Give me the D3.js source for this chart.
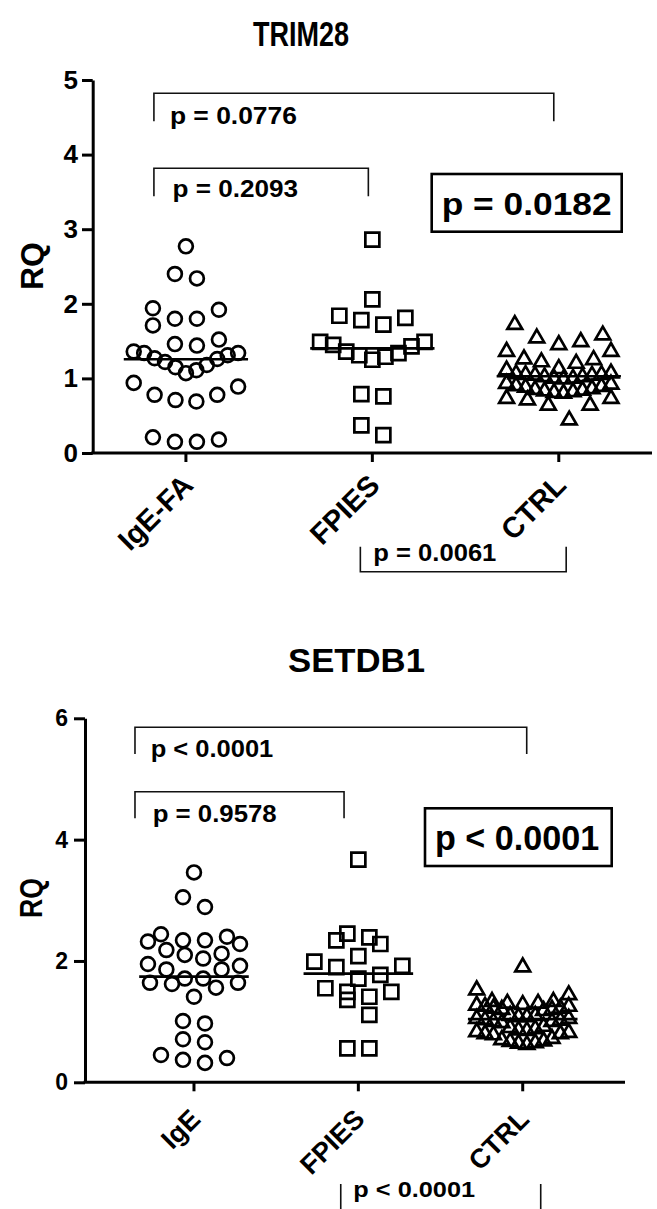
<!DOCTYPE html>
<html>
<head>
<meta charset="utf-8">
<script src="https://cdn.jsdelivr.net/npm/d3@7"></script>
<style>
  body { margin: 0; background: #fff; }
  svg text { font-family: Arial, "Liberation Sans", sans-serif; font-weight: bold; fill: #000; }
</style>
</head>
<body>
<div id="chart"></div>
<script>
// ---- data (RQ values) ----
const trim28Groups = ["IgE-FA", "FPIES", "CTRL"];
const trim28Ticks = [0, 1, 2, 3, 4, 5];
const trim28IgE = [2.77, 2.40, 2.34, 1.92, 1.94, 1.71, 1.80, 1.80, 1.46, 1.44, 1.52, 1.36, 1.34, 1.27, 1.22, 1.15,
  1.07, 1.11, 1.18, 1.26, 1.31, 1.34, 0.94, 0.78, 0.71, 0.69, 0.78, 0.89, 0.18, 0.15, 0.15, 0.21];
const trim28FPIES = [2.86, 2.06, 1.84, 1.78, 1.72, 1.81, 1.49, 1.45, 1.36, 1.31, 1.25, 1.29, 1.34, 1.43, 1.49,
  0.79, 0.76, 0.24, 0.37];
const trim28CTRL = [1.72, 1.58, 1.49, 1.45, 1.54, 1.36, 1.36, 1.25, 1.20, 1.11, 1.13, 1.22, 1.26,
  1.06, 1.05, 1.04, 1.02, 1.00, 0.99, 1.00, 1.02, 1.04, 1.05, 1.07,
  0.93, 0.90, 0.88, 0.85, 0.83, 0.81, 0.80, 0.82, 0.84, 0.86, 0.89, 0.92,
  0.73, 0.64, 0.64, 0.71, 0.73, 0.44];
const trim28P = ["p = 0.0776", "p = 0.2093", "p = 0.0061", "p = 0.0182"];

const setdb1Groups = ["IgE", "FPIES", "CTRL"];
const setdb1Ticks = [0, 2, 4, 6];
const setdb1IgE = [3.46, 3.05, 2.89, 2.40, 2.34, 2.28, 2.32, 2.34, 2.44, 2.18, 2.12, 2.10, 1.95, 1.86, 1.86, 1.92,
  2.04, 1.71, 1.64, 1.62, 1.41, 1.56, 1.64, 1.71, 0.97, 1.01, 0.66, 0.71, 0.40, 0.32, 0.37, 0.45];
const setdb1FPIES = [3.67, 2.39, 2.28, 2.34, 2.45, 2.08, 1.92, 1.77, 1.71, 1.90, 1.99, 1.55, 1.36, 1.49, 1.41,
  1.49, 1.11, 0.56, 0.56];
const setdb1CTRL = [1.90, 1.52, 1.44,
  1.33, 1.30, 1.28, 1.25, 1.22, 1.20, 1.18, 1.20, 1.22, 1.25, 1.27, 1.30, 1.33,
  1.10, 1.08, 1.05, 1.02, 1.00, 0.98, 1.00, 1.03, 1.05, 1.08, 1.10,
  0.92, 0.88, 0.85, 0.82, 0.80, 0.78, 0.80, 0.83, 0.86, 0.90,
  0.72, 0.68, 0.65, 0.62, 0.64, 0.67, 0.70];
const setdb1P = ["p < 0.0001", "p = 0.9578", "p < 0.0001", "p < 0.0001"];

const symbols = [d3.symbolCircle, d3.symbolSquare, d3.symbolTriangle];
const symbolSizes = [150, 196, 95];

const svg = d3.select("#chart").append("svg")
  .attr("width", 657)
  .attr("height", 1209);

function addText(g, txt, x, y, size, len) {
  const t = g.append("text")
    .attr("x", x)
    .attr("y", y)
    .style("font-size", size + "px")
    .text(txt);
  if (len) t.attr("textLength", len).attr("lengthAdjust", "spacingAndGlyphs");
  return t;
}

// GraphPad-like column scatter: bin by value, spread each row center-out
function swarm(vals, x0, y, binPx, gap, maxW, maxN) {
  const pts = vals.map(v => ({ v })).sort((a, b) => a.v - b.v);
  const rows = [];
  let row = null;
  pts.forEach(d => {
    if (!row || y(row[0].v) - y(d.v) >= binPx || row.length >= maxN) {
      row = [d];
      rows.push(row);
    } else row.push(d);
  });
  rows.forEach(r => {
    const n = r.length;
    const s = n > 1 ? Math.min(gap, maxW / (n - 1)) : 0;
    const slots = d3.range(n).map(i => (i - (n - 1) / 2) * s)
      .sort((a, b) => Math.round(Math.abs(a) * 100) - Math.round(Math.abs(b) * 100) || b - a);
    r.forEach((d, i) => { d.x = x0 + slots[i]; });
  });
  return pts;
}

function drawPanel(p) {
  const g = svg.append("g");
  const x = d3.scaleBand().domain(p.groups).range(p.xRange);
  const y = d3.scaleLinear().domain(p.yDomain).range([p.yBottom, p.yTop]);
  const bw = x.bandwidth();
  const cx = k => x(k) + bw / 2;

  // title
  addText(g, p.title, p.titleX, p.titleY, p.titleSize, p.titleLen);

  // y axis
  const ya = g.append("g")
    .attr("transform", `translate(${p.axisX},0)`)
    .call(d3.axisLeft(y).tickValues(p.yTicks).tickFormat(d3.format("d"))
      .tickSize(p.tickLen).tickSizeOuter(0).tickPadding(p.tickPad));
  ya.selectAll("path, line").attr("stroke", "#000").attr("stroke-width", 3);
  ya.selectAll("text").style("font-size", p.tickFont + "px");

  // x axis
  const xa = g.append("g")
    .attr("transform", `translate(0,${p.yBottom})`)
    .call(d3.axisBottom(x).tickSize(9).tickSizeOuter(0).tickFormat(""));
  xa.select(".domain").remove();
  xa.selectAll("line").attr("stroke", "#000").attr("stroke-width", 3);
  g.append("line")
    .attr("x1", p.axisX - 1.5).attr("x2", p.xEnd)
    .attr("y1", p.yBottom).attr("y2", p.yBottom)
    .attr("stroke", "#000").attr("stroke-width", 3);

  // rotated category labels
  g.selectAll(".xlab").data(p.groups).join("text")
    .attr("class", "xlab")
    .attr("text-anchor", "end")
    .style("font-size", p.xLabSize + "px")
    .attr("transform", d => `translate(${cx(d) + p.xLabDx},${p.yBottom + p.xLabDy}) rotate(-45)`)
    .text(d => d);

  // y label
  addText(g, "RQ", -p.yLab.len / 2, 0, p.yLab.size, p.yLab.len)
    .attr("transform", `translate(${p.yLab.x},${p.yLab.y}) rotate(-90)`);

  // points + mean lines
  p.series.forEach((vals, i) => {
    const k = p.groups[i];
    const pts = swarm(vals, cx(k), y, p.binPx, 22, bw * 0.56, 12);
    g.append("g").selectAll("path").data(pts).join("path")
      .attr("transform", d => `translate(${d.x},${y(d.v)})`)
      .attr("d", d3.symbol().type(symbols[i]).size(symbolSizes[i]))
      .attr("fill", "none")
      .attr("stroke", "#000")
      .attr("stroke-width", 2.7);
    const m = d3.mean(vals);
    g.append("line")
      .attr("x1", cx(k) - bw / 3).attr("x2", cx(k) + bw / 3)
      .attr("y1", y(m)).attr("y2", y(m))
      .attr("stroke", "#000").attr("stroke-width", 2.6);
  });

  // comparison brackets
  p.brackets.forEach(b => {
    const x1 = cx(p.groups[b.from]) + b.dx1;
    const x2 = cx(p.groups[b.to]) + b.dx2;
    g.append("path")
      .attr("d", `M${x1},${b.y + b.tip}V${b.y}H${x2}V${b.y + b.tip}`)
      .attr("fill", "none")
      .attr("stroke", "#111")
      .attr("stroke-width", 1.6);
    addText(g, b.label, x1 + b.tx, b.y + b.ty, b.size, b.len);
  });

  // boxed overall p value
  const bx = p.box;
  g.append("rect")
    .attr("x", bx.x).attr("y", bx.y).attr("width", bx.w).attr("height", bx.h)
    .attr("fill", "none").attr("stroke", "#000").attr("stroke-width", 2.6);
  addText(g, bx.label, bx.tx, bx.ty, bx.size, bx.len);
}

drawPanel({
  title: "TRIM28", titleX: 253, titleY: 46, titleSize: 35, titleLen: 96,
  groups: trim28Groups, series: [trim28IgE, trim28FPIES, trim28CTRL],
  yDomain: [0, 5], yTicks: trim28Ticks, yTop: 80, yBottom: 453,
  axisX: 92.7, xRange: [92.7, 652], xEnd: 652,
  tickLen: 10.7, tickPad: 4, tickFont: 26,
  xLabSize: 29, xLabDx: 9, xLabDy: 34,
  yLab: { x: 43.3, y: 266, size: 32, len: 48 },
  binPx: 22,
  brackets: [
    { from: 0, to: 2, dx1: -32, dx2: -5, y: 93.3, tip: 28, label: trim28P[0], tx: 16, ty: 31, size: 24, len: 127 },
    { from: 0, to: 1, dx1: -32, dx2: -4, y: 168.3, tip: 28, label: trim28P[1], tx: 18.5, ty: 28.4, size: 24, len: 125.7 },
    { from: 1, to: 2, dx1: -12, dx2: 7.4, y: 571.7, tip: -25, label: trim28P[2], tx: 13, ty: -10.7, size: 23, len: 123 }
  ],
  box: { x: 431.7, y: 174, w: 190, h: 57.7, label: trim28P[3], tx: 441.7, ty: 215, size: 32, len: 170 }
});

drawPanel({
  title: "SETDB1", titleX: 288, titleY: 672, titleSize: 33, titleLen: 137,
  groups: setdb1Groups, series: [setdb1IgE, setdb1FPIES, setdb1CTRL],
  yDomain: [0, 6], yTicks: setdb1Ticks, yTop: 718.3, yBottom: 1082.3,
  axisX: 85, xRange: [111.8, 604.9], xEnd: 625,
  tickLen: 11, tickPad: 6, tickFont: 23,
  xLabSize: 27, xLabDx: 8, xLabDy: 38.5,
  yLab: { x: 41.7, y: 898, size: 32, len: 40 },
  binPx: 17,
  brackets: [
    { from: 0, to: 2, dx1: -59, dx2: 4, y: 727.3, tip: 26.7, label: setdb1P[0], tx: 15.7, ty: 30, size: 24, len: 122.6 },
    { from: 0, to: 1, dx1: -59, dx2: -14.3, y: 791.7, tip: 26.6, label: setdb1P[1], tx: 17.7, ty: 30, size: 24, len: 124 },
    { from: 1, to: 2, dx1: -17.6, dx2: 18, y: 1212, tip: -28, label: setdb1P[2], tx: 12.6, ty: -15.3, size: 22, len: 121.7 }
  ],
  box: { x: 425, y: 808.3, w: 186.7, h: 57.7, label: setdb1P[3], tx: 435, ty: 850, size: 35, len: 164.3 }
});
</script>
</body>
</html>
